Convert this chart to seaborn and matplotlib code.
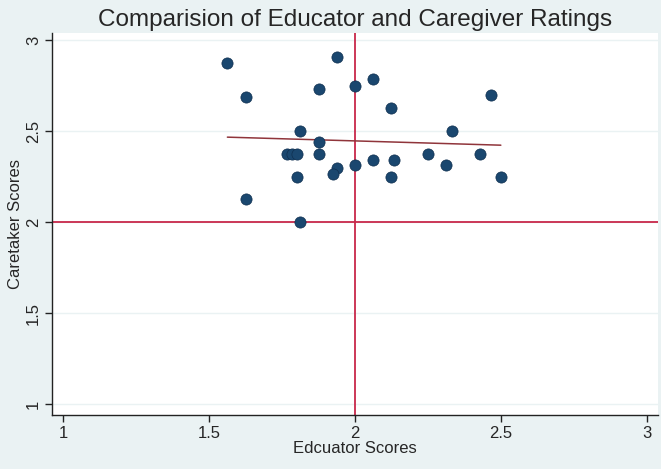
import seaborn as sns
import matplotlib.pyplot as plt
import pandas as pd

# scores
educator = [1.5625, 1.9375, 1.625, 1.875, 2.0, 2.0625, 2.125, 2.4667,
            1.8125, 2.3333, 1.875, 1.7667, 1.7833, 1.8, 1.875, 2.25, 2.4286,
            2.0625, 2.1333, 1.9375, 1.9231, 2.0, 2.3125, 1.8, 2.125, 2.5,
            1.625, 1.8125]
caretaker = [2.875, 2.9062, 2.6875, 2.7333, 2.75, 2.7857, 2.625, 2.7,
             2.5, 2.5, 2.4375, 2.375, 2.375, 2.375, 2.375, 2.375, 2.375,
             2.3438, 2.3438, 2.3, 2.2667, 2.3125, 2.3125, 2.25, 2.25, 2.25,
             2.125, 2.0]
xticks = [1, 1.5, 2, 2.5, 3]
yticks = [1, 1.5, 2, 2.5, 3]

df = pd.DataFrame({'Edcuator Scores': educator, 'Caretaker Scores': caretaker})

sns.set_style("white")
plt.rcParams['font.family'] = ['Liberation Sans', 'DejaVu Sans']

bg = '#eaf2f3'
fig = plt.figure(figsize=(6.61, 4.69), dpi=100, facecolor=bg)
ax = fig.add_axes([0.079, 0.115, 0.917, 0.815])
ax.set_facecolor('white')

for y in yticks:
    ax.axhline(y, color=bg, lw=1, zorder=0)

ax.axvline(2, color='#c8284a', lw=1.3, zorder=1)
ax.axhline(2, color='#c8284a', lw=1.3, zorder=1)

sns.regplot(ax=ax, x='Edcuator Scores', y='Caretaker Scores', data=df, ci=None,
            scatter=False, truncate=True, line_kws={'color': '#90353b', 'lw': 1.1, 'zorder': 2})
sns.scatterplot(ax=ax, x='Edcuator Scores', y='Caretaker Scores', data=df,
                color='#1a476f', s=65, edgecolor='#0f2f4f', linewidth=0.5, zorder=3)

ax.set_xlim(0.962, 3.04)
ax.set_ylim(0.94, 3.04)
ax.set_xticks(xticks)
ax.set_xticklabels(['1', '1.5', '2', '2.5', '3'])
ax.set_yticks(yticks)
ax.set_yticklabels(['1', '1.5', '2', '2.5', '3'], rotation=90, va='center')
ax.tick_params(axis='both', direction='out', length=5, width=1, color='#222222',
               labelsize=12, pad=3, bottom=True, left=True)
for side in ['top', 'right']:
    ax.spines[side].set_visible(False)
for side in ['left', 'bottom']:
    ax.spines[side].set_color('#222222')
    ax.spines[side].set_linewidth(1)

ax.set_xlabel('Edcuator Scores', fontsize=12, labelpad=0)
ax.set_ylabel('Caretaker Scores', fontsize=12, labelpad=2)
ax.set_title('Comparision of Educator and Caregiver Ratings', fontsize=17.5, pad=5)

plt.savefig('out.png', dpi=100, facecolor=bg)
plt.close()
